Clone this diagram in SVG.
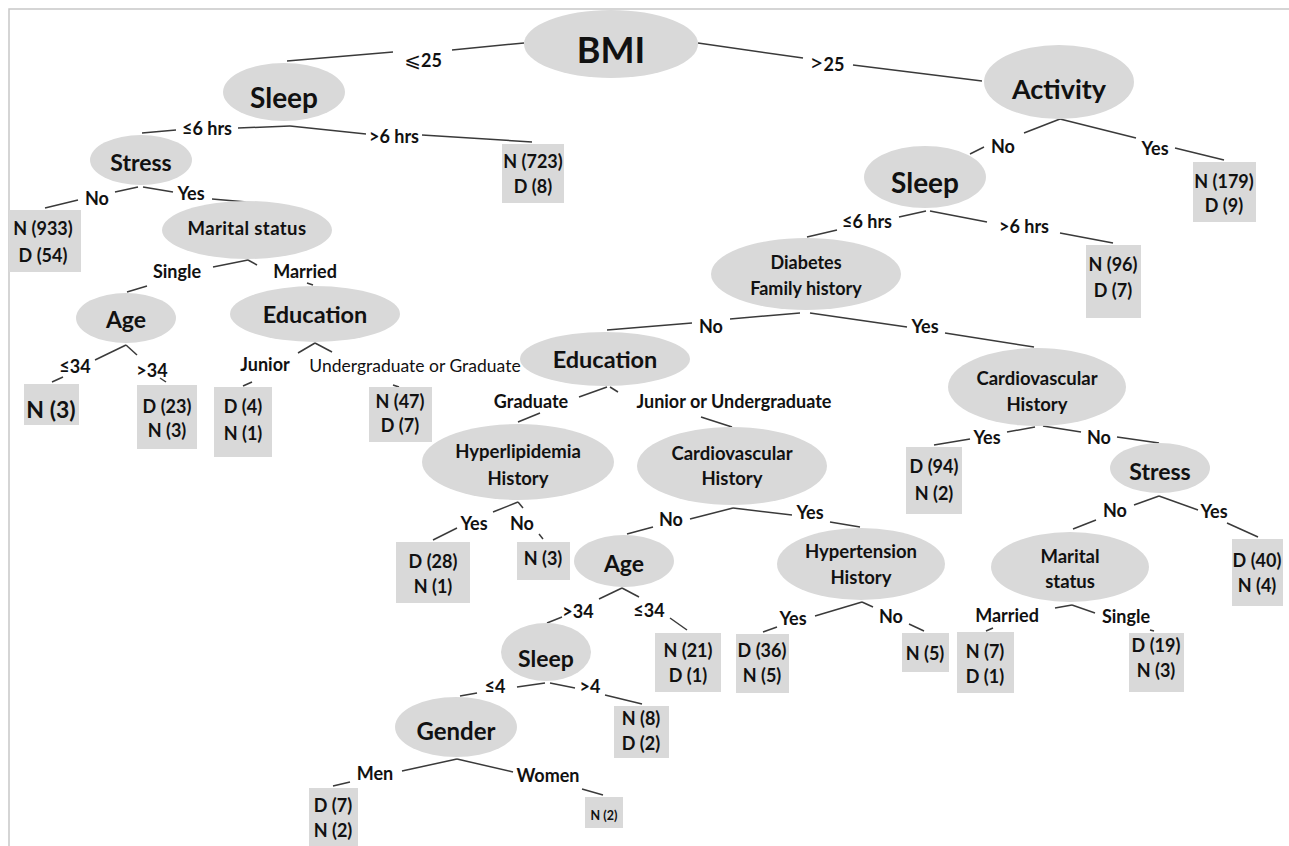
<svg xmlns="http://www.w3.org/2000/svg" width="1289" height="846" viewBox="0 0 1289 846">
<style>
text{font-family:Lato,"Liberation Sans","DejaVu Sans",sans-serif;font-weight:bold;fill:#111;text-anchor:middle}
.n{fill:#d9d9d9}
.b{fill:#d9d9d9}
.lt{font-size:18px}
.lf{font-size:18px}
.m{font-size:18.5px}
.e line{stroke:#3a3a3a;stroke-width:1.5}
.sym{font-family:"DejaVu Sans",sans-serif}
</style>
<rect width="1289" height="846" fill="#fff"/>
<path d="M9 846V9H1289" fill="none" stroke="#c8c8c8" stroke-width="1.5"/>
<g id="connectors" class="e">
<line x1="524" y1="43" x2="452" y2="50"/><line x1="393" y1="52" x2="287" y2="61"/>
<line x1="698" y1="43" x2="803" y2="58"/><line x1="853" y1="65" x2="982" y2="81"/>
<line x1="238" y1="128" x2="290" y2="126"/><line x1="176" y1="130" x2="142" y2="133"/>
<line x1="290" y1="126" x2="366" y2="134"/><line x1="422" y1="135" x2="532" y2="142"/>
<line x1="138" y1="187" x2="115" y2="192"/><line x1="78" y1="200" x2="45" y2="208"/>
<line x1="143" y1="187" x2="173" y2="192"/><line x1="212" y1="199" x2="247" y2="202"/>
<line x1="248" y1="260" x2="213" y2="267"/><line x1="147" y1="286" x2="127" y2="292"/>
<line x1="248" y1="260" x2="257" y2="265"/><line x1="307" y1="283" x2="313" y2="285"/>
<line x1="126" y1="345" x2="95" y2="360"/><line x1="63" y1="377" x2="52" y2="382"/>
<line x1="126" y1="345" x2="137" y2="355"/><line x1="160" y1="378" x2="166" y2="382"/>
<line x1="315" y1="343" x2="298" y2="353"/><line x1="252" y1="382" x2="243" y2="386"/>
<line x1="315" y1="343" x2="332" y2="352"/><line x1="393" y1="385" x2="399" y2="387"/>
<line x1="1060" y1="119" x2="1024" y2="133"/><line x1="984" y1="147" x2="970" y2="154"/>
<line x1="1060" y1="119" x2="1136" y2="138"/><line x1="1175" y1="148" x2="1224" y2="160"/>
<line x1="926" y1="211" x2="899" y2="217"/><line x1="837" y1="230" x2="807" y2="237"/>
<line x1="930" y1="211" x2="987" y2="222"/><line x1="1060" y1="233" x2="1113" y2="243"/>
<line x1="800" y1="313" x2="730" y2="319"/><line x1="692" y1="323" x2="607" y2="330"/>
<line x1="810" y1="313" x2="907" y2="327"/><line x1="945" y1="333" x2="1034" y2="347"/>
<line x1="607" y1="387" x2="579" y2="397"/><line x1="540" y1="413" x2="518" y2="422"/>
<line x1="610" y1="387" x2="618" y2="392"/><line x1="701" y1="417" x2="732" y2="427"/>
<line x1="518" y1="502" x2="493" y2="512"/><line x1="457" y1="528" x2="433" y2="540"/>
<line x1="518" y1="502" x2="523" y2="508"/><line x1="539" y1="534" x2="543" y2="539"/>
<line x1="733" y1="508" x2="690" y2="519"/><line x1="653" y1="527" x2="627" y2="534"/>
<line x1="733" y1="508" x2="792" y2="515"/><line x1="830" y1="522" x2="860" y2="527"/>
<line x1="622" y1="588" x2="599" y2="599"/><line x1="562" y1="617" x2="547" y2="623"/>
<line x1="622" y1="588" x2="639" y2="597"/><line x1="670" y1="618" x2="687" y2="630"/>
<line x1="862" y1="602" x2="815" y2="616"/><line x1="777" y1="627" x2="763" y2="632"/>
<line x1="862" y1="602" x2="873" y2="607"/><line x1="909" y1="624" x2="924" y2="631"/>
<line x1="545" y1="683" x2="517" y2="687"/><line x1="477" y1="693" x2="460" y2="696"/>
<line x1="550" y1="683" x2="575" y2="688"/><line x1="605" y1="695" x2="642" y2="704"/>
<line x1="457" y1="759" x2="402" y2="771"/><line x1="350" y1="782" x2="333" y2="786"/>
<line x1="457" y1="759" x2="513" y2="772"/><line x1="582" y1="789" x2="603" y2="795"/>
<line x1="1035" y1="427" x2="1007" y2="432"/><line x1="970" y1="439" x2="934" y2="445"/>
<line x1="1043" y1="426" x2="1081" y2="432"/><line x1="1117" y1="437" x2="1159" y2="443"/>
<line x1="1159" y1="496" x2="1134" y2="505"/><line x1="1096" y1="520" x2="1073" y2="529"/>
<line x1="1159" y1="496" x2="1198" y2="510"/><line x1="1227" y1="523" x2="1258" y2="537"/>
<line x1="1072" y1="605" x2="1055" y2="608"/><line x1="993" y1="628" x2="986" y2="631"/>
<line x1="1072" y1="605" x2="1095" y2="613"/><line x1="1150" y1="630" x2="1154" y2="631"/>
</g>
<g id="edge-labels" class="lt">
<text x="423" y="67"><tspan class="sym" style="font-size:20px;font-weight:normal">⩽</tspan>25</text>
<text x="827" y="71"><tspan style="font-size:24px;font-weight:normal">&gt;</tspan>25</text>
<text x="207" y="135">≤6 hrs</text>
<text x="394" y="143">&gt;6 hrs</text>
<text x="97" y="205">No</text>
<text x="191" y="200">Yes</text>
<text x="177" y="278">Single</text>
<text x="305" y="278">Married</text>
<text x="75" y="373">≤34</text>
<text x="152" y="377">&gt;34</text>
<text x="265" y="371">Junior</text>
<text x="415" y="372" style="font-weight:normal;font-size:17.5px">Undergraduate or Graduate</text>
<text x="1003" y="153">No</text>
<text x="1155" y="155">Yes</text>
<text x="867" y="228">≤6 hrs</text>
<text x="1024" y="233">&gt;6 hrs</text>
<text x="711" y="333">No</text>
<text x="925" y="333">Yes</text>
<text x="531" y="408">Graduate</text>
<text x="734" y="408">Junior or Undergraduate</text>
<text x="474" y="530">Yes</text>
<text x="522" y="530">No</text>
<text x="671" y="526">No</text>
<text x="810" y="519">Yes</text>
<text x="578" y="618">&gt;34</text>
<text x="649" y="617">≤34</text>
<text x="793" y="625">Yes</text>
<text x="891" y="623">No</text>
<text x="495" y="693">≤4</text>
<text x="590" y="693">&gt;4</text>
<text x="375" y="780">Men</text>
<text x="548" y="782">Women</text>
<text x="987" y="444">Yes</text>
<text x="1099" y="444">No</text>
<text x="1115" y="517">No</text>
<text x="1214" y="518">Yes</text>
<text x="1007" y="622">Married</text>
<text x="1126" y="623">Single</text>
</g>
<g id="bmi"><ellipse class="n" cx="611" cy="44" rx="87" ry="34"/><text x="611" y="63" style="font-size:36px">BMI</text></g>
<g id="sleep-l"><ellipse class="n" cx="284" cy="92" rx="61" ry="29"/><text x="284" y="108" style="font-size:28px">Sleep</text></g>
<g id="activity"><ellipse class="n" cx="1059" cy="82" rx="75" ry="37"/><text x="1059" y="99" style="font-size:27px">Activity</text></g>
<g id="stress-l"><ellipse class="n" cx="141" cy="160" rx="51" ry="25"/><text x="141" y="171" style="font-size:23px">Stress</text></g>
<g id="marital-l"><ellipse class="n" cx="247" cy="230" rx="85" ry="29"/><text x="247" y="235" class="m" style="letter-spacing:0.4px">Marital status</text></g>
<g id="age-l"><ellipse class="n" cx="126" cy="318" rx="50" ry="25"/><text x="126" y="328" style="font-size:23px">Age</text></g>
<g id="education-l"><ellipse class="n" cx="315" cy="314" rx="85" ry="28"/><text x="315" y="323" style="font-size:23.5px">Education</text></g>
<g id="sleep-r"><ellipse class="n" cx="925" cy="177" rx="61" ry="31"/><text x="925" y="193" style="font-size:28px">Sleep</text></g>
<g id="diabetes"><ellipse class="n" cx="806" cy="274" rx="95" ry="36"/><text x="806" y="269" style="font-size:18px">Diabetes</text><text x="806" y="295" style="font-size:18px">Family history</text></g>
<g id="education-m"><ellipse class="n" cx="605" cy="359" rx="85" ry="27"/><text x="605" y="368" style="font-size:23.5px">Education</text></g>
<g id="cardio-r"><ellipse class="n" cx="1037" cy="387" rx="89" ry="39"/><text x="1037" y="385" class="m">Cardiovascular</text><text x="1037" y="411" class="m">History</text></g>
<g id="hyperlipidemia"><ellipse class="n" cx="518" cy="462" rx="96" ry="38"/><text x="518" y="458" class="m">Hyperlipidemia</text><text x="518" y="485" class="m">History</text></g>
<g id="cardio-m"><ellipse class="n" cx="732" cy="466" rx="95" ry="39"/><text x="732" y="460" class="m">Cardiovascular</text><text x="732" y="485" class="m">History</text></g>
<g id="stress-r"><ellipse class="n" cx="1160" cy="468" rx="50" ry="25"/><text x="1160" y="480" style="font-size:23px">Stress</text></g>
<g id="age-m"><ellipse class="n" cx="624" cy="561" rx="50" ry="26"/><text x="624" y="572" style="font-size:23px">Age</text></g>
<g id="hypertension"><ellipse class="n" cx="861" cy="564" rx="84" ry="36"/><text x="861" y="558" class="m">Hypertension</text><text x="861" y="584" class="m">History</text></g>
<g id="marital-r"><ellipse class="n" cx="1070" cy="567" rx="79" ry="35"/><text x="1070" y="563" class="m">Marital</text><text x="1070" y="588" class="m">status</text></g>
<g id="sleep-b"><ellipse class="n" cx="546" cy="652" rx="45" ry="29"/><text x="546" y="667" style="font-size:23px">Sleep</text></g>
<g id="gender"><ellipse class="n" cx="456" cy="727" rx="61" ry="30"/><text x="456" y="740" style="font-size:24px">Gender</text></g>
<g id="leaf1" class="lf"><rect class="b" x="9" y="210" width="72" height="62"/><text x="43" y="235">N (933)</text><text x="43" y="262">D (54)</text></g>
<g id="leaf2" class="lf"><rect class="b" x="502" y="144" width="62" height="59"/><text x="533" y="168">N (723)</text><text x="533" y="193">D (8)</text></g>
<g id="leaf3"><rect class="b" x="24" y="384" width="55" height="41"/><text x="51" y="418" style="font-size:23px">N (3)</text></g>
<g id="leaf4" class="lf"><rect class="b" x="137" y="385" width="60" height="64"/><text x="167" y="413">D (23)</text><text x="167" y="437">N (3)</text></g>
<g id="leaf5" class="lf"><rect class="b" x="214" y="387" width="58" height="70"/><text x="243" y="413">D (4)</text><text x="243" y="440">N (1)</text></g>
<g id="leaf6" class="lf"><rect class="b" x="369" y="387" width="63" height="55"/><text x="400" y="408">N (47)</text><text x="400" y="432">D (7)</text></g>
<g id="leaf7" class="lf"><rect class="b" x="1193" y="162" width="63" height="60"/><text x="1224" y="188">N (179)</text><text x="1224" y="212">D (9)</text></g>
<g id="leaf8" class="lf"><rect class="b" x="1086" y="245" width="55" height="73"/><text x="1113" y="271">N (96)</text><text x="1113" y="297">D (7)</text></g>
<g id="leaf9" class="lf"><rect class="b" x="396" y="542" width="74" height="61"/><text x="433" y="568">D (28)</text><text x="433" y="593">N (1)</text></g>
<g id="leaf10" class="lf"><rect class="b" x="517" y="542" width="53" height="38"/><text x="543" y="565">N (3)</text></g>
<g id="leaf11" class="lf"><rect class="b" x="906" y="447" width="56" height="67"/><text x="934" y="473">D (94)</text><text x="934" y="500">N (2)</text></g>
<g id="leaf12" class="lf"><rect class="b" x="736" y="634" width="53" height="59"/><text x="762" y="657">D (36)</text><text x="762" y="682">N (5)</text></g>
<g id="leaf13" class="lf"><rect class="b" x="902" y="633" width="47" height="39"/><text x="925" y="660">N (5)</text></g>
<g id="leaf14" class="lf"><rect class="b" x="655" y="633" width="66" height="59"/><text x="688" y="657">N (21)</text><text x="688" y="682">D (1)</text></g>
<g id="leaf15" class="lf"><rect class="b" x="614" y="706" width="55" height="52"/><text x="641" y="725">N (8)</text><text x="641" y="750">D (2)</text></g>
<g id="leaf16" class="lf"><rect class="b" x="309" y="788" width="49" height="58"/><text x="333" y="812">D (7)</text><text x="333" y="837">N (2)</text></g>
<g id="leaf17"><rect class="b" x="585" y="797" width="38" height="31"/><text x="604" y="820" style="font-size:12.5px">N (2)</text></g>
<g id="leaf18" class="lf"><rect class="b" x="1232" y="539" width="51" height="67"/><text x="1257" y="567">D (40)</text><text x="1257" y="592">N (4)</text></g>
<g id="leaf19" class="lf"><rect class="b" x="957" y="632" width="57" height="61"/><text x="985" y="658">N (7)</text><text x="985" y="683">D (1)</text></g>
<g id="leaf20" class="lf"><rect class="b" x="1129" y="633" width="55" height="59"/><text x="1156" y="652">D (19)</text><text x="1156" y="677">N (3)</text></g>
</svg>
